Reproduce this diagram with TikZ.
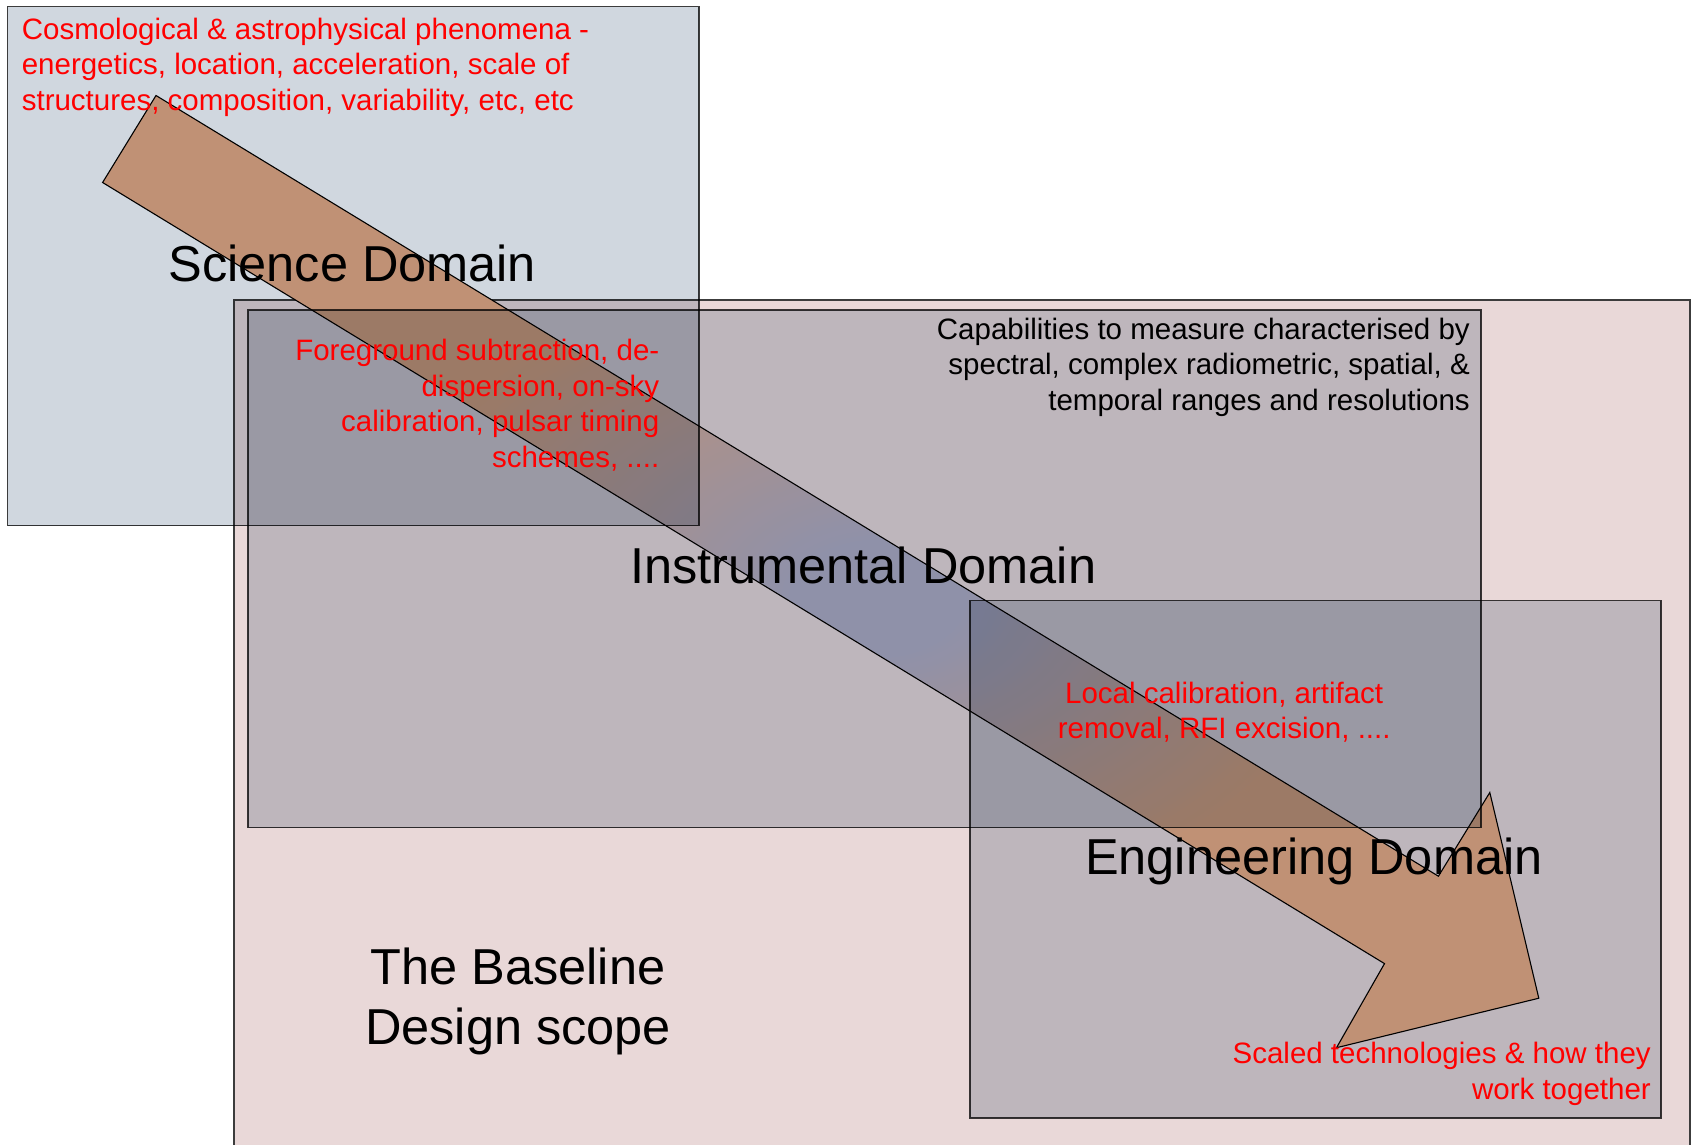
\documentclass[tikz,border=0pt]{standalone}
\usepackage{fontspec}
\setmainfont{Liberation Sans}
\definecolor{scifill}{RGB}{208,215,223}
\definecolor{basefill}{RGB}{233,216,216}
\definecolor{boxline}{RGB}{60,60,60}
\definecolor{arrowtan}{RGB}{236,172,134}
\definecolor{arrowblue}{RGB}{176,172,194}
\definecolor{notered}{RGB}{255,0,0}
% bluish core fading to tan towards both ends of the flow arrow
\pgfdeclareradialshading{flowshade}{\pgfpoint{2.1bp}{-1.5bp}}{%
  color(0bp)=(arrowblue); color(3bp)=(arrowblue); color(17bp)=(arrowtan); color(50bp)=(arrowtan)}
\tikzset{
  domainbox/.style={draw=boxline, line width=1.9pt},
  tintbox/.style={domainbox, fill=scifill, blend mode=multiply},
  bigtitle/.style={font=\fontsize{50.5}{60.5}\selectfont, inner sep=0pt},
  note/.style={font=\fontsize{29.5}{35.5}\selectfont, inner sep=0pt},
  rednote/.style={note, text=notered},
}
\begin{document}
\begin{tikzpicture}[x=1pt,y=-1pt]
\useasboundingbox (0,0) rectangle (1692,1144);
\clip (0,0) rectangle (1692,1144);
\fill[white] (0,0) rectangle (1692,1144);

% baseline design scope
\path[domainbox, fill=basefill] (234,300) rectangle (1690,1170);

% flow arrow from science to engineering
\coordinate (tailtop) at (156,95.5);
\coordinate (neckup) at (1438.4,876.2);
\coordinate (barbup) at (1489.8,792.5);
\coordinate (tip) at (1538.8,998.2);
\coordinate (barbdown) at (1336.5,1047.7);
\coordinate (neckdown) at (1384.5,963.6);
\coordinate (tailbot) at (102.6,182.5);
\shadedraw[shading=flowshade, draw=black, line width=1.1pt, line join=miter]
  (tailtop) -- (neckup) -- (barbup) -- (tip) -- (barbdown) -- (neckdown) -- (tailbot) -- cycle;

% the three domains
\begin{scope}[blend mode=multiply]
\path[tintbox] (7.5,6.5) rectangle (699,525.5);
\path[tintbox] (248,310) rectangle (1481,827.5);
\path[tintbox] (970,600.5) rectangle (1661,1118);
\end{scope}

% titles (multi-line nodes are placed by the baseline of their last line)
\node[bigtitle, anchor=base] (scititle) at (352.3,281.6) {Science Domain};
\node[bigtitle, anchor=base] (insttitle) at (863.3,583.8) {Instrumental Domain};
\node[bigtitle, anchor=base] (engtitle) at (1313.8,874) {Engineering Domain};
\node[bigtitle, anchor=base, align=center] (basetitle) at (518,1044.6) {The Baseline\\Design scope};

% notes
\node[rednote, anchor=base west, align=left] (scinote) at (21.6,110)
  {Cosmological \& astrophysical phenomena -\\energetics, location, acceleration, scale of\\structures, composition, variability, etc, etc};
\node[rednote, anchor=base east, align=right] (instnote) at (659.5,467)
  {Foreground subtraction, de-\\dispersion, on-sky\\calibration, pulsar timing\\schemes, ....};
\node[note, anchor=base east, align=right] (capnote) at (1470,410.4)
  {Capabilities to measure characterised by\\spectral, complex radiometric, spatial, \&\\temporal ranges and resolutions};
\node[rednote, anchor=base, align=center] (engnote) at (1224.2,738.6)
  {Local calibration, artifact\\removal, RFI excision, ....};
\node[rednote, anchor=base east, align=right] (technote) at (1651,1099)
  {Scaled technologies \& how they\\work together};
\end{tikzpicture}
\end{document}
